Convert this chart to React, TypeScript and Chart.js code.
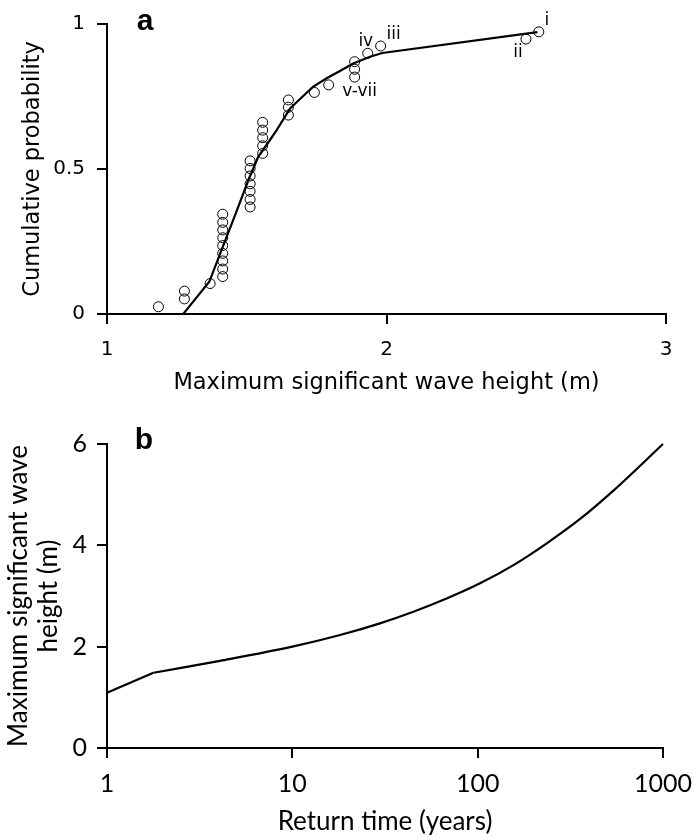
import React, { useEffect, useRef } from 'react';
import { Chart, registerables } from 'chart.js';

Chart.register(...registerables);

// ---------- Panel a data ----------
const obsHeight = [
  1.184, 1.277, 1.277, 1.369,
  1.414, 1.414, 1.414, 1.414, 1.414, 1.414, 1.414, 1.414, 1.414,
  1.512, 1.512, 1.512, 1.512, 1.512, 1.512, 1.512,
  1.557, 1.557, 1.557, 1.557, 1.557,
  1.649, 1.649, 1.649,
  1.742, 1.793,
  1.886, 1.886, 1.886,
  1.933, 1.979, 2.499, 2.545,
];
const obsProb = [
  0.025, 0.052, 0.079, 0.105,
  0.129, 0.155, 0.183, 0.209, 0.236, 0.263, 0.290, 0.316, 0.344,
  0.369, 0.395, 0.423, 0.449, 0.476, 0.502, 0.528,
  0.554, 0.580, 0.608, 0.634, 0.661,
  0.686, 0.713, 0.738,
  0.764, 0.790,
  0.817, 0.844, 0.870,
  0.899, 0.924, 0.948, 0.973,
];
const fitHeight = [1.0, 1.273, 1.366, 1.41, 1.46, 1.506, 1.541, 1.583, 1.607, 1.655, 1.7, 1.738, 1.786, 1.835, 1.881, 1.941, 1.985, 2.54];
const fitProb = [0, 0, 0.111, 0.221, 0.345, 0.462, 0.542, 0.6, 0.634, 0.709, 0.75, 0.784, 0.813, 0.839, 0.864, 0.887, 0.9, 0.972];
const heightTicks = [1, 2, 3];
const probTicks = [0, 0.5, 1];
// labelled observations: point index -> label
const pointLabels = [
  { index: 36, text: 'i' },
  { index: 35, text: 'ii' },
  { index: 34, text: 'iii' },
  { index: 33, text: 'iv' },
  { index: 30, text: 'v-vii' },
];

// ---------- Panel b data ----------
const returnTime = [1, 1.78, 4.07, 10, 18.1, 29.7, 45, 68, 103, 156, 236, 357, 540, 1000];
const waveHeight = [1.09, 1.485, 1.72, 2.0, 2.23, 2.46, 2.69, 2.95, 3.25, 3.61, 4.04, 4.52, 5.08, 6.0];
const returnTicks = [1, 10, 100, 1000];
const waveTicks = [0, 2, 4, 6];

const FONT_A = "'DejaVu Sans', Verdana, sans-serif";
const FONT_B = "Lato, 'Open Sans', sans-serif";

// offsets of annotation labels relative to their point (pixels)
const labelOffsets: Record<string, [number, number]> = {
  'i': [8, -11],
  'ii': [-8, 13],
  'iii': [13, -11],
  'iv': [-2, -12],
  'v-vii': [5, 15],
};

function axisCommon(font: string, size: number, pad: number) {
  return {
    grid: { drawOnChartArea: false, drawTicks: true, tickLength: 10, color: '#000', lineWidth: 2 },
    border: { display: true, color: '#000', width: 2 },
    ticks: { color: '#000', font: { family: font, size }, padding: pad, autoSkip: false, maxRotation: 0 },
  };
}

function makeTextPlugin(name: string, draw: (chart: any) => void) {
  return { id: name, afterDraw: draw };
}

const fitX = (h: number) => (s: any) => { s.height = h; s.paddingLeft = 0; s.paddingRight = 0; };
const fitY = (w: number) => (s: any) => { s.width = w; s.paddingTop = 0; s.paddingBottom = 0; };

export default function App() {
  const refA = useRef<HTMLCanvasElement>(null);
  const refB = useRef<HTMLCanvasElement>(null);

  useEffect(() => {
    const ca = axisCommon(FONT_A, 20, 12);
    const cxa = axisCommon(FONT_A, 20, 14);
    const pluginA = makeTextPlugin('panelTextA', (chart: any) => {
      const ctx = chart.ctx;
      const xs = chart.scales.x;
      const ys = chart.scales.y;
      ctx.save();
      ctx.fillStyle = '#000';
      ctx.textAlign = 'center';
      ctx.textBaseline = 'middle';
      ctx.font = `17px ${FONT_A}`;
      for (const l of pointLabels) {
        const [dx, dy] = labelOffsets[l.text];
        ctx.fillText(l.text, xs.getPixelForValue(obsHeight[l.index]) + dx, ys.getPixelForValue(obsProb[l.index]) + dy);
      }
      ctx.font = `bold 30px 'Liberation Sans', Arial, sans-serif`;
      ctx.fillText('a', chart.chartArea.left + 38, chart.chartArea.top - 2);
      ctx.restore();
    });

    const chartA = new Chart(refA.current!, {
      type: 'scatter',
      data: {
        datasets: [
          {
            label: 'fit',
            data: fitHeight.map((x, i) => ({ x, y: fitProb[i] })),
            showLine: true,
            borderColor: '#000',
            borderWidth: 2.2,
            pointRadius: 0,
            tension: 0,
            clip: false as any,
          },
          {
            label: 'observed',
            data: obsHeight.map((x, i) => ({ x, y: obsProb[i] })),
            showLine: false,
            pointRadius: 5,
            pointStyle: 'circle',
            borderColor: '#000',
            borderWidth: 1,
            backgroundColor: 'rgba(0,0,0,0)',
            clip: false as any,
          },
        ],
      },
      options: {
        animation: false,
        responsive: false,
        events: [],
        layout: { padding: { left: 0, right: 27, top: 24, bottom: 0 } },
        plugins: { legend: { display: false }, tooltip: { enabled: false } },
        scales: {
          x: {
            type: 'linear',
            min: 1,
            max: 3,
            ...cxa,
            afterBuildTicks: (s: any) => { s.ticks = heightTicks.map((v) => ({ value: v })); },
            ticks: { ...cxa.ticks, callback: (v: any) => String(v) },
            afterFit: fitX(86),
            title: {
              display: true,
              text: 'Maximum significant wave height (m)',
              color: '#000',
              font: { family: FONT_A, size: 22.5, lineHeight: 1.2 },
              padding: { top: 0, bottom: 3 },
            },
          },
          y: {
            type: 'linear',
            min: 0,
            max: 1,
            ...ca,
            afterBuildTicks: (s: any) => { s.ticks = probTicks.map((v) => ({ value: v })); },
            ticks: { ...ca.ticks, callback: (v: any) => String(v) },
            afterFit: fitY(107),
            title: {
              display: true,
              text: 'Cumulative probability',
              color: '#000',
              font: { family: FONT_A, size: 22.5, lineHeight: 1.2 },
              padding: { top: 20, bottom: 0 },
            },
          },
        },
      },
      plugins: [pluginA],
    } as any);

    const cb = axisCommon(FONT_B, 25, 10);
    const cxb = axisCommon(FONT_B, 25, 11);
    const pluginB = makeTextPlugin('panelTextB', (chart: any) => {
      const ctx = chart.ctx;
      ctx.save();
      ctx.fillStyle = '#000';
      ctx.textAlign = 'center';
      ctx.textBaseline = 'middle';
      ctx.font = `bold 30px 'Liberation Sans', Arial, sans-serif`;
      ctx.fillText('b', chart.chartArea.left + 37, chart.chartArea.top - 3);
      ctx.restore();
    });

    const chartB = new Chart(refB.current!, {
      type: 'scatter',
      data: {
        datasets: [
          {
            label: 'return-start',
            data: returnTime.slice(0, 2).map((x, i) => ({ x, y: waveHeight[i] })),
            showLine: true,
            borderColor: '#000',
            borderWidth: 2.2,
            pointRadius: 0,
            tension: 0,
            clip: false as any,
          },
          {
            label: 'return',
            data: returnTime.slice(1).map((x, i) => ({ x, y: waveHeight[i + 1] })),
            showLine: true,
            borderColor: '#000',
            borderWidth: 2.2,
            pointRadius: 0,
            cubicInterpolationMode: 'monotone',
            tension: 0.4,
            clip: false as any,
          },
        ],
      },
      options: {
        animation: false,
        responsive: false,
        events: [],
        layout: { padding: { left: 0, right: 30, top: 44, bottom: 0 } },
        plugins: { legend: { display: false }, tooltip: { enabled: false } },
        scales: {
          x: {
            type: 'logarithmic',
            min: 1,
            max: 1000,
            ...cxb,
            afterBuildTicks: (s: any) => { s.ticks = returnTicks.map((v) => ({ value: v })); },
            ticks: { ...cxb.ticks, callback: (v: any) => String(v) },
            afterFit: fitX(91),
            title: {
              display: true,
              text: 'Return time (years)',
              color: '#000',
              font: { family: FONT_B, size: 26, lineHeight: 1.2 },
              padding: { top: 0, bottom: 2 },
            },
          },
          y: {
            type: 'linear',
            min: 0,
            max: 6,
            ...cb,
            afterBuildTicks: (s: any) => { s.ticks = waveTicks.map((v) => ({ value: v })); },
            ticks: { ...cb.ticks, callback: (v: any) => String(v) },
            afterFit: fitY(107),
            title: {
              display: true,
              text: ['Maximum significant wave', 'height (m)'],
              color: '#000',
              font: { family: FONT_B, size: 26, lineHeight: 1.15 },
              padding: { top: 4, bottom: 0 },
            },
          },
        },
      },
      plugins: [pluginB],
    } as any);

    return () => {
      chartA.destroy();
      chartB.destroy();
    };
  }, []);

  return (
    <div style={{ position: 'absolute', left: 0, top: 0, width: 693, height: 839, background: '#fff' }}>
      <canvas ref={refA} width={693} height={400} style={{ position: 'absolute', left: 0, top: 0, display: 'block' }} />
      <canvas ref={refB} width={693} height={439} style={{ position: 'absolute', left: 0, top: 400, display: 'block' }} />
    </div>
  );
}
